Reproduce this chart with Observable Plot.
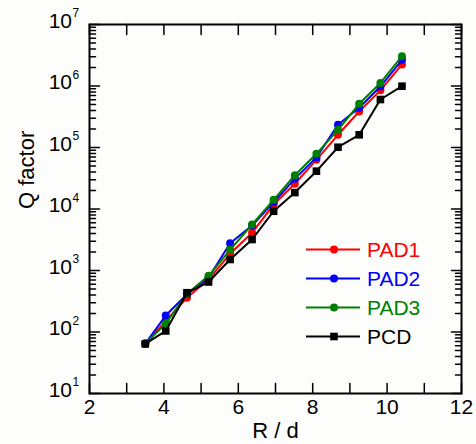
<!DOCTYPE html>
<html><head><meta charset="utf-8">
<script src="https://cdn.jsdelivr.net/npm/d3@7"></script>
<script src="https://cdn.jsdelivr.net/npm/@observablehq/plot@0.6"></script>
<style>
html,body{margin:0;padding:0;background:#fdfdfb;}
#chart{position:relative;width:476px;height:444px;font-family:Arial,"Liberation Sans",sans-serif;}
#legend{position:absolute;left:306px;top:235px;}
.row{display:flex;align-items:center;height:29px;}
.row span{font-size:21px;margin-left:7px;line-height:29px;}
</style></head><body><div id="chart"><div id="legend"></div></div>
<script>
// ---- data ----
const rd = [3.5, 4.05, 4.62, 5.2, 5.78, 6.37, 6.95, 7.52, 8.1, 8.68, 9.25, 9.82, 10.4];
const pad1 = [65, 152, 360, 720, 1870, 4100, 11800, 25700, 63000, 161000, 385000, 850000, 2240000];
const pad2 = [65, 185, 410, 760, 2780, 5400, 12900, 30900, 69000, 234000, 442000, 980000, 2660000];
const pad3 = [65, 136, 420, 820, 2170, 5600, 14100, 35400, 79000, 194000, 513000, 1120000, 3050000];
const pcd  = [64, 104, 435, 650, 1510, 3190, 9200, 18500, 41200, 101000, 161000, 603000, 993000];
const seriesNames = ["PAD1", "PAD2", "PAD3", "PCD"];
const seriesValues = [pad1, pad2, pad3, pcd];
const seriesColors = ["#ff0000", "#0000ff", "#008000", "#000000"];
const seriesSymbols = ["circle", "circle", "circle", "square"];
const xTicks = [2, 3, 4, 5, 6, 7, 8, 9, 10, 11, 12];
const xTickLabels = [2, 4, 6, 8, 10, 12];
const yDecades = [1e1, 1e2, 1e3, 1e4, 1e5, 1e6, 1e7];
const yExponents = ["1", "2", "3", "4", "5", "6", "7"];
const yMinorMultipliers = [2, 3, 4, 5, 6, 7, 8, 9];
const xTitle = "R / d";
const yTitle = "Q factor";

// ---- derived tables ----
const yMinor = [];
yDecades.slice(0, -1).forEach(d => yMinorMultipliers.forEach(m => yMinor.push(d * m)));
const yLabelRows = yDecades.map((d, i) => ({v: d, e: yExponents[i]}));

const tickShape = {draw(ctx, l) { ctx.moveTo(0, 0); ctx.lineTo(0, -l); }};
const tk = (data, opts) => Plot.vector(data, {shape: tickShape, anchor: "start", stroke: "black", strokeWidth: 1.5, ...opts});

const seriesMarks = [];
seriesNames.forEach((name, si) => {
  const rows = rd.map((x, i) => ({x, q: seriesValues[si][i]}));
  seriesMarks.push(Plot.line(rows, {x: "x", y: "q", stroke: seriesColors[si], strokeWidth: 2}));
  seriesMarks.push(Plot.dot(rows, {x: "x", y: "q", fill: seriesColors[si], stroke: "none",
    symbol: seriesSymbols[si], r: seriesSymbols[si] === "square" ? 4.3 : 4}));
});

const chart = Plot.plot({
  width: 476, height: 444,
  marginLeft: 89, marginRight: 15, marginTop: 24, marginBottom: 51,
  style: {fontFamily: "Arial, 'Liberation Sans', sans-serif", background: "transparent", color: "black"},
  x: {domain: [2, 12], axis: null},
  y: {type: "log", domain: [10, 1e7], axis: null},
  marks: [
    ...seriesMarks,
    // inward ticks
    tk(yDecades, {y: d => d, frameAnchor: "left", rotate: 90, length: 10}),
    tk(yMinor, {y: d => d, frameAnchor: "left", rotate: 90, length: 6}),
    tk(yDecades, {y: d => d, frameAnchor: "right", rotate: -90, length: 10}),
    tk(yMinor, {y: d => d, frameAnchor: "right", rotate: -90, length: 6}),
    tk(xTicks, {x: d => d, frameAnchor: "bottom", rotate: 0, length: 10}),
    tk(xTicks, {x: d => d, frameAnchor: "top", rotate: 180, length: 10}),
    Plot.frame({stroke: "black", strokeWidth: 2}),
    // tick labels
    Plot.text(yLabelRows, {y: "v", text: () => "10", frameAnchor: "left", textAnchor: "end", dx: -17.5, dy: -3.5, fontSize: 21, fill: "black"}),
    Plot.text(yLabelRows, {y: "v", text: "e", frameAnchor: "left", textAnchor: "start", dx: -17, dy: -11, fontSize: 12, fill: "black"}),
    Plot.text(xTickLabels, {x: d => d, text: d => String(d), frameAnchor: "bottom", lineAnchor: "top", dy: 6, fontSize: 21, fill: "black"}),
    // axis titles
    Plot.text([xTitle], {text: d => d, frameAnchor: "bottom", lineAnchor: "top", dy: 29, fontSize: 22, fill: "black"}),
    Plot.text([yTitle], {text: d => d, frameAnchor: "left", rotate: -90, dx: -63, fontSize: 22, fill: "black"})
  ]
});
document.getElementById("chart").prepend(chart);

// legend
const legend = d3.select("#legend");
seriesNames.forEach((name, si) => {
  const row = legend.append("div").attr("class", "row");
  const svg = row.append("svg").attr("width", 54).attr("height", 29);
  svg.append("line").attr("x1", 0).attr("x2", 54).attr("y1", 14.5).attr("y2", 14.5)
    .attr("stroke", seriesColors[si]).attr("stroke-width", 2);
  if (seriesSymbols[si] === "square") {
    svg.append("rect").attr("x", 28 - 3.8).attr("y", 14.5 - 3.8).attr("width", 7.6).attr("height", 7.6).attr("fill", seriesColors[si]);
  } else {
    svg.append("circle").attr("cx", 28).attr("cy", 14.5).attr("r", 4).attr("fill", seriesColors[si]);
  }
  row.append("span").style("color", seriesColors[si]).text(name);
});
</script>
</body></html>
